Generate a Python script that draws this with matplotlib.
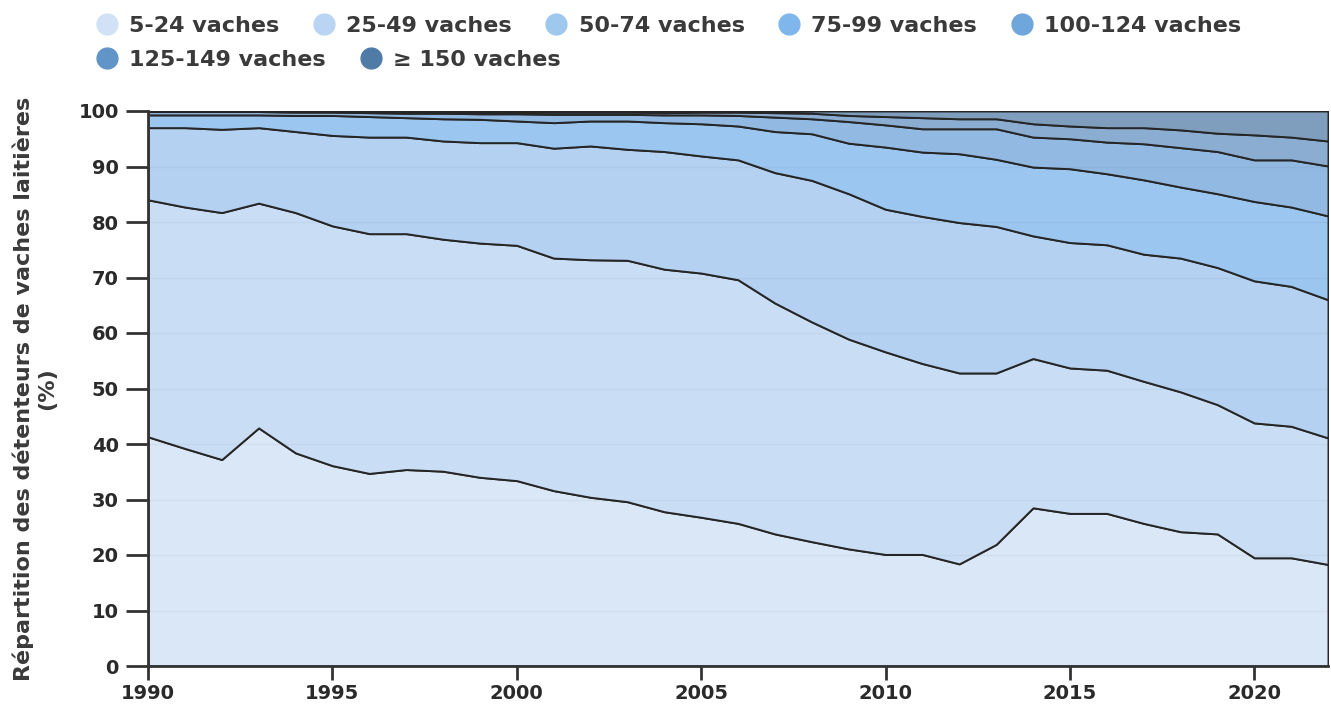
import matplotlib
matplotlib.use('Agg')
import matplotlib.pyplot as plt
from matplotlib.lines import Line2D

years = list(range(1990, 2023))

labels = ['5-24 vaches', '25-49 vaches', '50-74 vaches', '75-99 vaches',
          '100-124 vaches', '125-149 vaches', '\u2265 150 vaches']

# share of holders (%) per herd size class
s_5_24 = [41.3, 39.2, 37.2, 42.9, 38.4, 36.1, 34.7, 35.4, 35.1, 34.0, 33.4,
          31.6, 30.4, 29.6, 27.8, 26.8, 25.7, 23.8, 22.4, 21.1, 20.1, 20.1,
          18.4, 21.9, 28.5, 27.5, 27.5, 25.7, 24.2, 23.8, 19.5, 19.5, 18.3]
s_25_49 = [42.7, 43.5, 44.5, 40.5, 43.3, 43.2, 43.2, 42.5, 41.8, 42.2, 42.4,
           41.9, 42.8, 43.5, 43.7, 44.0, 43.9, 41.6, 39.6, 37.8, 36.5, 34.4,
           34.4, 30.9, 26.9, 26.2, 25.8, 25.6, 25.2, 23.3, 24.3, 23.7, 22.8]
s_50_74 = [13.0, 14.3, 15.0, 13.6, 14.6, 16.3, 17.4, 17.4, 17.7, 18.1, 18.5,
           19.8, 20.5, 20.0, 21.2, 21.1, 21.6, 23.5, 25.5, 26.2, 25.7, 26.5,
           27.1, 26.4, 22.1, 22.6, 22.6, 22.9, 24.1, 24.7, 25.6, 25.2, 24.9]
s_75_99 = [2.3, 2.3, 2.6, 2.3, 2.9, 3.6, 3.7, 3.5, 4.0, 4.2, 3.9,
           4.6, 4.5, 5.1, 5.2, 5.8, 6.1, 7.4, 8.4, 9.1, 11.2, 11.6,
           12.4, 12.1, 12.4, 13.3, 12.8, 13.4, 12.8, 13.3, 14.3, 14.3, 15.1]
s_100_124 = [0.6, 0.6, 0.6, 0.6, 0.6, 0.6, 0.7, 0.8, 1.0, 1.0, 1.3,
             1.5, 1.2, 1.2, 1.4, 1.6, 1.9, 2.6, 2.7, 3.9, 4.0, 4.2,
             4.5, 5.5, 5.4, 5.4, 5.7, 6.5, 7.1, 7.6, 7.5, 8.5, 9.0]
s_125_149 = [0.1, 0.1, 0.1, 0.1, 0.2, 0.2, 0.2, 0.3, 0.3, 0.3, 0.3,
             0.4, 0.4, 0.4, 0.4, 0.5, 0.6, 0.8, 1.0, 1.1, 1.5, 2.0,
             1.8, 1.8, 2.4, 2.3, 2.6, 2.9, 3.2, 3.3, 4.5, 4.1, 4.5]
s_150 = [0.0, 0.0, 0.0, 0.0, 0.0, 0.0, 0.1, 0.1, 0.1, 0.2, 0.2,
         0.2, 0.2, 0.2, 0.3, 0.2, 0.2, 0.3, 0.4, 0.8, 1.0, 1.2,
         1.4, 1.4, 2.3, 2.7, 3.0, 3.0, 3.4, 4.0, 4.3, 4.7, 5.4]

series = [s_5_24, s_25_49, s_50_74, s_75_99, s_100_124, s_125_149, s_150]

fill_colors = ['#dae7f7', '#c9ddf4', '#b4d1f1', '#9bc6ef', '#92b9e1', '#8badd2', '#7f9ebd']
marker_colors = ['#d1e2f6', '#bad5f3', '#9fc8ef', '#7fb7ec', '#6fa6db', '#6194c7', '#4f7ba6']
text_color = '#3a3a3a'

plt.rcParams['font.family'] = 'DejaVu Sans'
plt.rcParams['font.weight'] = 'bold'

fig = plt.figure(figsize=(13.31, 7.05), dpi=100)
ax = fig.add_axes([148 / 1331, 1 - 666 / 705, 1180 / 1331, 555 / 705])

ax.stackplot(years, *series, colors=fill_colors, edgecolor='#262626', linewidth=1.4)

ax.set_xlim(1990, 2022)
ax.set_ylim(0, 100)
ax.set_xticks(range(1990, 2021, 5))
ax.set_yticks(range(0, 101, 10))
ax.grid(axis='y', color='#000000', alpha=0.035, linewidth=1)

for side in ['top', 'right']:
    ax.spines[side].set_visible(False)
for side in ['left', 'bottom']:
    ax.spines[side].set_color('#333333')
    ax.spines[side].set_linewidth(2)
ax.tick_params(axis='both', width=2, color='#333333',
               labelsize=14, labelcolor='#2a2a2a')
ax.tick_params(axis='y', length=16, pad=5)
ax.tick_params(axis='x', length=10, pad=3)
for lbl in ax.get_xticklabels() + ax.get_yticklabels():
    lbl.set_fontweight('bold')

ax.set_ylabel('R\u00e9partition des d\u00e9tenteurs de vaches laiti\u00e8res\n(%)',
              fontsize=16, fontweight='bold', color=text_color)
ax.yaxis.set_label_coords(-0.0768, 0.5)

handles = [Line2D([], [], linestyle='none', marker='o', markersize=15,
                  markerfacecolor=c, markeredgecolor=c) for c in marker_colors]

leg_kw = dict(loc='upper left', frameon=False, fontsize=16, borderpad=0,
              handletextpad=0.5, columnspacing=1.5, handlelength=1.0,
              labelcolor=text_color)
leg1 = fig.legend(handles[:5], labels[:5], ncol=5,
                  bbox_to_anchor=(85 / 1331, 1 - 5 / 705), **leg_kw)
leg2 = fig.legend(handles[5:], labels[5:], ncol=2,
                  bbox_to_anchor=(85 / 1331, 1 - 39 / 705), **leg_kw)
for leg in (leg1, leg2):
    for t in leg.get_texts():
        t.set_fontweight('bold')

fig.savefig('out.png', dpi=100)
